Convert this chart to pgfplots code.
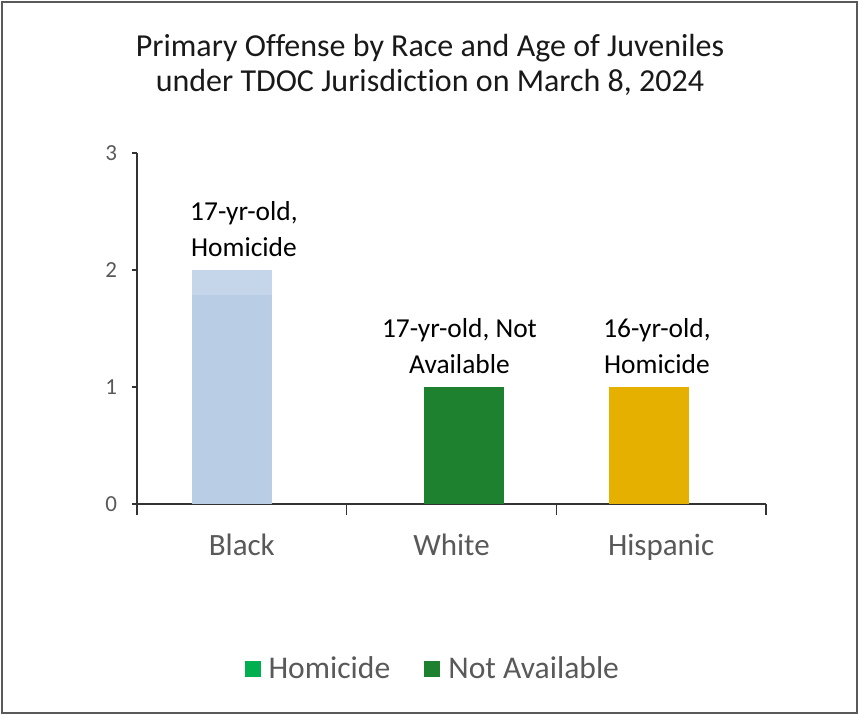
\documentclass[border=0pt]{standalone}
\usepackage{pgfplots}
\pgfplotsset{compat=1.18}
\usepackage{fontspec}
\setmainfont{Carlito}[Ligatures=NoCommon]

\definecolor{txtgray}{HTML}{595959}
\definecolor{axiscol}{HTML}{333333}
\definecolor{blackbar}{HTML}{B9CDE5}
\definecolor{blacktop}{HTML}{C6D6EA}
\definecolor{homgreen}{HTML}{00B050}
\definecolor{nagreen}{HTML}{1D812F}
\definecolor{hispgold}{HTML}{E6B000}

\begin{document}
\begin{tikzpicture}
\useasboundingbox (-68.5pt,-105.5pt) rectangle (361pt,252pt);
\draw[line width=1pt, color=black!65] (-67.5pt,-104.5pt) rectangle (360pt,251pt);

\node[align=center, font=\fontsize{16}{17.5}\selectfont, text=black!90]
  at (146.5pt,219.5pt) {Primary Offense by Race and Age of Juveniles\\under TDOC Jurisdiction on March 8, 2024};

\begin{axis}[
  at={(0,0)}, anchor=south west,
  scale only axis, width=314.5pt, height=175.5pt,
  xmin=0, xmax=3, ymin=0, ymax=3,
  axis lines*=left,
  axis line style={color=axiscol, line width=0.75pt},
  /pgf/number format/assume math mode=true,
  tick align=outside,
  major tick length=2.5pt,
  ytick={0,1,2,3},
  ytick style={color=axiscol, line width=0.75pt},
  yticklabel style={font=\fontsize{11.5}{12}\selectfont, text=txtgray, xshift=-4pt},
  xtick={0.5,1.5,2.5},
  xticklabels={Black,White,Hispanic},
  xtick style={draw=none},
  xticklabel style={font=\fontsize{15.5}{18}\selectfont, text=txtgray, yshift=-9pt},
  extra x ticks={0,1,2,3},
  extra x tick labels={},
  extra x tick style={major tick length=5.5pt, xtick style={draw=axiscol, line width=0.75pt}},
  legend style={at={(0.475,-0.47)}, anchor=center, draw=none, fill=none,
    legend columns=2, font=\fontsize{15.8}{17}\selectfont, text=txtgray,
    nodes={inner xsep=4pt},
    /tikz/every even column/.append style={column sep=13pt}},
  legend image code/.code={\fill[#1, draw=none] (0pt,-3.8pt) rectangle (8pt,4.2pt);},
]
% Black: 2 (lighter top band)
\addplot[ybar, bar width=40pt, bar shift=0pt, fill=blacktop, draw=none, forget plot]
  coordinates {(0.452,2)};
\addplot[ybar, bar width=40pt, bar shift=0pt, fill=blackbar, draw=none, forget plot]
  coordinates {(0.452,1.79)};
% White: 1
\addplot[ybar, bar width=40pt, bar shift=0pt, fill=nagreen, draw=none, forget plot]
  coordinates {(1.56,1)};
% Hispanic: 1
\addplot[ybar, bar width=40pt, bar shift=0pt, fill=hispgold, draw=none, forget plot]
  coordinates {(2.444,1)};

\addlegendimage{fill=homgreen}
\addlegendentry{Homicide}
\addlegendimage{fill=nagreen}
\addlegendentry{Not Available}

\node[align=center, anchor=south, font=\fontsize{13.7}{18}\selectfont, yshift=3pt]
  at (axis cs:0.51,2) {17-yr-old,\\Homicide};
\node[align=center, anchor=south, font=\fontsize{13.7}{18}\selectfont, yshift=3pt]
  at (axis cs:1.538,1) {17-yr-old, Not\\Available};
\node[align=center, anchor=south, font=\fontsize{13.7}{18}\selectfont, yshift=3pt]
  at (axis cs:2.48,1) {16-yr-old,\\Homicide};
\end{axis}
\end{tikzpicture}
\end{document}
